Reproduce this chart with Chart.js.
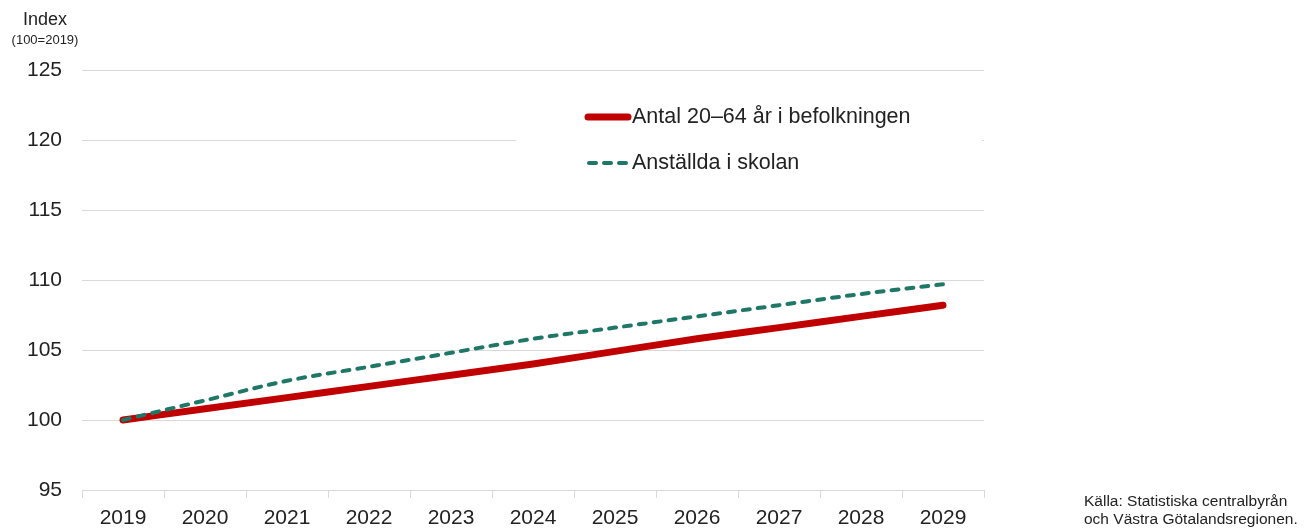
<!DOCTYPE html>
<html>
<head>
<meta charset="utf-8">
<script src="https://cdn.jsdelivr.net/npm/chart.js@4"></script>
<style>
  html, body { margin: 0; padding: 0; background: #fff; }
  #wrap { width: 1306px; height: 530px; }
</style>
</head>
<body>
<div id="wrap"><canvas id="indexChart" width="1306" height="530"></canvas></div>
<script>
const years = ["2019", "2020", "2021", "2022", "2023", "2024", "2025", "2026", "2027", "2028", "2029"];
const befolkning = [100, 100.8, 101.6, 102.4, 103.2, 104.0, 104.9, 105.8, 106.6, 107.4, 108.2];
const skolan = [100, 101.4, 102.8, 103.8, 104.8, 105.8, 106.6, 107.4, 108.2, 109.0, 109.7];
const seriesNames = ["Antal 20\u201364 år i befolkningen", "Anställda i skolan"];
const yTicks = [95, 100, 105, 110, 115, 120, 125];

const RED = "#c00000";
const GREEN = "#1f7767";
const FONT = "'Liberation Sans', Arial, sans-serif";

// titles, source note and the boxed legend are drawn by hand
const extras = {
  id: "extras",
  afterDatasetsDraw(chart) {
    const c = chart.ctx;
    c.save();
    c.fillStyle = "#222";
    c.textAlign = "center";
    c.textBaseline = "middle";
    c.font = "18px " + FONT;
    c.fillText("Index", 45, 20);
    c.font = "13px " + FONT;
    c.fillText("(100=2019)", 45, 40);

    c.textAlign = "left";
    c.font = "15.5px " + FONT;
    c.fillText("Källa: Statistiska centralbyrån", 1084, 502);
    c.fillText("och Västra Götalandsregionen.", 1084, 520);

    // legend box (covers the gridline behind it)
    c.fillStyle = "#fff";
    c.fillRect(516, 84, 466, 112);

    c.lineCap = "round";
    c.strokeStyle = RED;
    c.lineWidth = 7;
    c.beginPath();
    c.moveTo(588, 117);
    c.lineTo(628, 117);
    c.stroke();

    c.strokeStyle = GREEN;
    c.lineWidth = 4;
    c.setLineDash([7, 8]);
    c.beginPath();
    c.moveTo(589, 163);
    c.lineTo(628, 163);
    c.stroke();
    c.setLineDash([]);

    c.fillStyle = "#222";
    c.font = "21.5px " + FONT;
    c.fillText(seriesNames[0], 632, 117);
    c.fillText(seriesNames[1], 632, 163);
    c.restore();
  }
};

const ctx = document.getElementById("indexChart").getContext("2d");
new Chart(ctx, {
  type: "line",
  data: {
    labels: years,
    datasets: [
      {
        label: seriesNames[0],
        data: befolkning,
        borderColor: RED,
        borderWidth: 7,
        borderCapStyle: "round",
        borderJoinStyle: "round",
        pointRadius: 0,
        cubicInterpolationMode: "monotone",
        order: 2
      },
      {
        label: seriesNames[1],
        data: skolan,
        borderColor: GREEN,
        borderWidth: 4,
        borderDash: [7, 8],
        borderCapStyle: "round",
        pointRadius: 0,
        cubicInterpolationMode: "monotone",
        order: 1
      }
    ]
  },
  options: {
    responsive: false,
    animation: false,
    layout: { padding: { top: 70, right: 322, left: 0, bottom: 0 } },
    plugins: {
      legend: { display: false },
      tooltip: { enabled: false }
    },
    scales: {
      x: {
        offset: true,
        afterFit: axis => { axis.height = 40; },
        grid: {
          offset: true,
          drawOnChartArea: false,
          drawTicks: true,
          tickLength: 8,
          color: "#d9d9d9"
        },
        border: { color: "#d9d9d9", width: 1 },
        ticks: {
          color: "#222",
          padding: 8,
          maxRotation: 0,
          font: { family: FONT, size: 21 }
        }
      },
      y: {
        min: 95,
        max: 125,
        afterFit: axis => { axis.width = 82; },
        afterBuildTicks: axis => { axis.ticks = yTicks.map(v => ({ value: v })); },
        grid: { color: "#d9d9d9", drawTicks: false },
        border: { display: false },
        ticks: {
          color: "#222",
          padding: 20,
          font: { family: FONT, size: 21 }
        }
      }
    }
  },
  plugins: [extras]
});
</script>
</body>
</html>
